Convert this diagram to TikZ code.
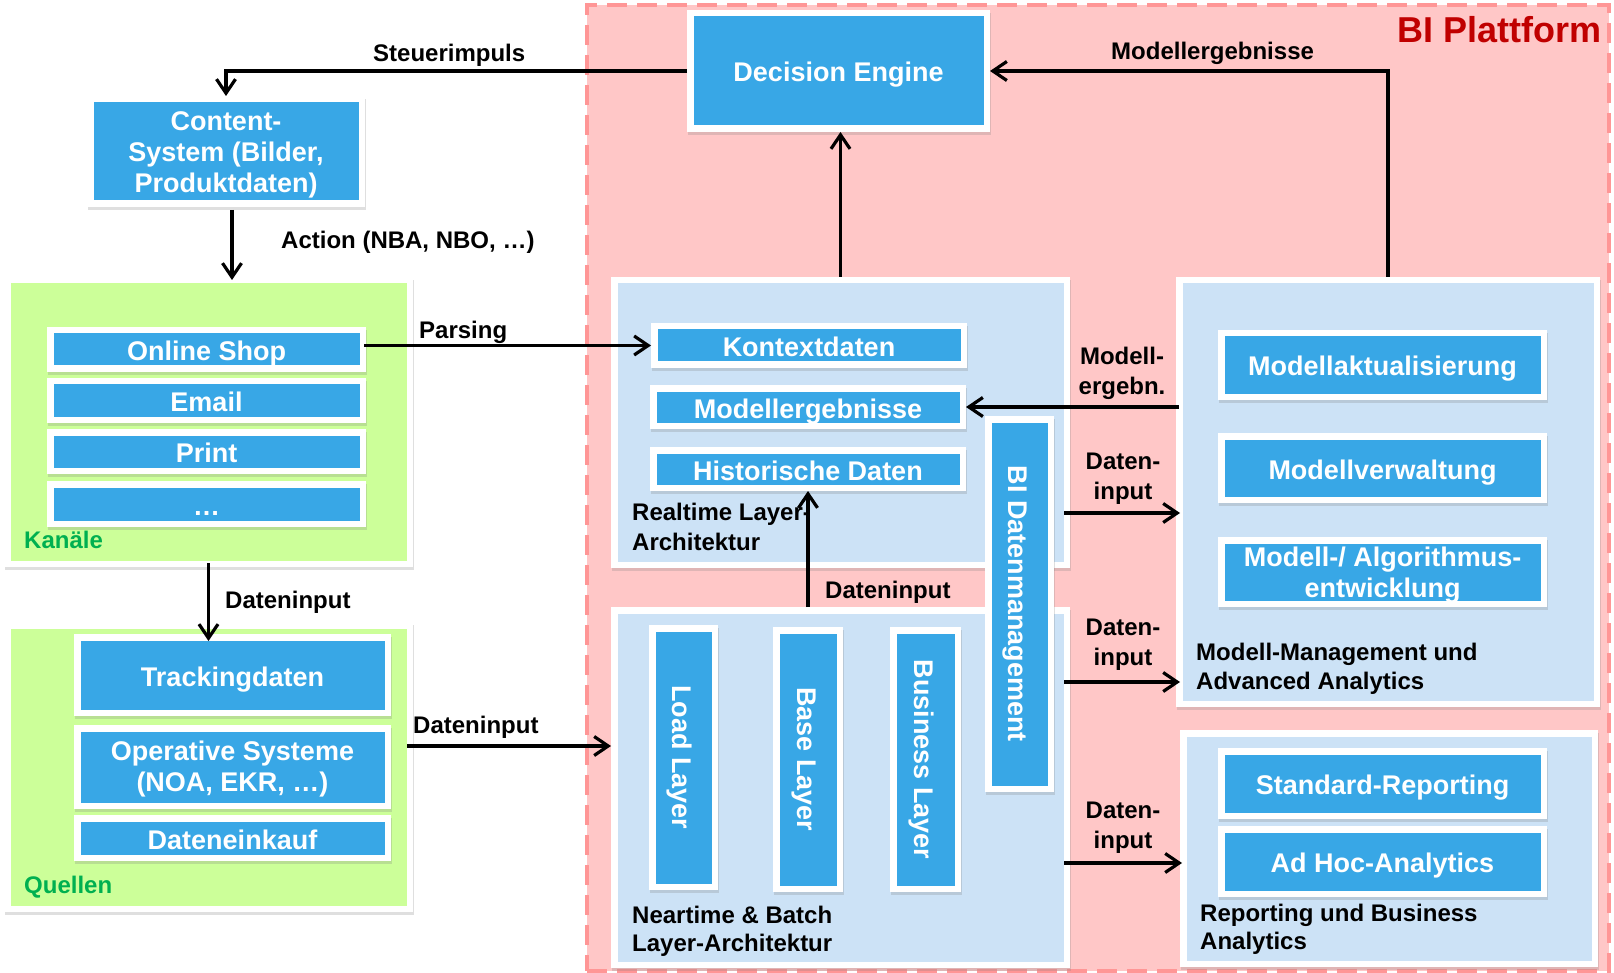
\documentclass[tikz,border=0pt]{standalone}
\usepackage{fontspec}
\setmainfont{Liberation Sans}
\usetikzlibrary{arrows.meta,shadows,fit,calc}

\definecolor{tileblue}{RGB}{56,167,230}
\definecolor{paleblue}{RGB}{204,226,246}
\definecolor{limegreen}{RGB}{204,255,153}
\definecolor{platformpink}{RGB}{255,199,199}
\definecolor{platformedge}{RGB}{255,150,150}
\definecolor{titlered}{RGB}{192,0,0}
\definecolor{groupgreen}{RGB}{0,176,80}

\tikzset{
  % white framed box with a coloured inner field and a soft shadow
  panel/.style={fill=white, draw=none, inner sep=0pt, outer sep=0pt,
    drop shadow={shadow xshift=1pt, shadow yshift=-3pt, opacity=0.25},
    path picture={\fill[#1] ([shift={(6.5pt,-6.5pt)}]path picture bounding box.north west)
      rectangle ([shift={(-6.5pt,6.5pt)}]path picture bounding box.south east);}},
  tile/.style={panel=tileblue},
  % white captions inside the blue tiles
  tiletext/.style={text=white, inner sep=0pt,
    font=\bfseries\fontsize{27}{31.5}\selectfont, text height=22pt, text depth=0pt},
  tilemulti/.style={text=white, inner sep=0pt,
    font=\bfseries\fontsize{27}{31}\selectfont, align=center},
  vtext/.style={tiletext, rotate=-90},
  lbl/.style={font=\bfseries\fontsize{24}{30}\selectfont, inner sep=0pt},
  arr/.style={line width=3.2pt, -{Straight Barb[length=14pt,width=19pt]}},
}

\begin{document}
\begin{tikzpicture}[x=1pt,y=-1pt]
\useasboundingbox (0,0) rectangle (1614,973);

% BI platform area
\node[fit={(587,5)(1609,971)}, inner sep=0pt, fill=platformpink, draw=platformedge,
  line width=4.5pt, dash pattern=on 20pt off 10pt] (bip) {};
\node[font=\bfseries\fontsize{36}{40}\selectfont, text=titlered, inner sep=0pt,
  anchor=base east] (biplbl) at (1602,43) {BI Plattform};

% decision engine and content system
\node[tile, fit={(687,10)(990,132)}] (de) {};
\node[tiletext] at (de) {Decision Engine};
\node[tile, fit={(87,96)(365,207)}] (cs) {};
\node[tilemulti, yshift=-3pt] at (cs) {Content-\\System (Bilder,\\Produktdaten)};

% channels
\node[panel=limegreen, fit={(4,277)(413,567)}] (kan) {};
\node[tile, fit={(47,327)(366,372)}] (shop) {};
\node[tiletext] at (shop) {Online Shop};
\node[tile, fit={(47,378)(366,423)}] (mail) {};
\node[tiletext] at (mail) {Email};
\node[tile, fit={(47,429)(366,474)}] (print) {};
\node[tiletext] at (print) {Print};
\node[tile, fit={(47,481)(366,527)}] (more) {};
\node[tiletext] at (more) {…};
\node[lbl, text=groupgreen, anchor=base west] (kanlbl) at (24,548) {Kanäle};

% sources
\node[panel=limegreen, fit={(4,622)(413,912)}] (qu) {};
\node[tile, fit={(74,634)(391,716)}] (trk) {};
\node[tiletext] at (trk) {Trackingdaten};
\node[tile, fit={(74,725)(391,809)}] (ops) {};
\node[tilemulti, yshift=-2pt] at (ops) {Operative Systeme\\(NOA, EKR, …)};
\node[tile, fit={(74,815)(391,861)}] (buy) {};
\node[tiletext] at (buy) {Dateneinkauf};
\node[lbl, text=groupgreen, anchor=base west] (qulbl) at (24,893) {Quellen};

% realtime layer
\node[panel=paleblue, fit={(611,277)(1070,568)}] (rt) {};
\node[tile, fit={(651,323)(967,368)}] (ctx) {};
\node[tiletext] at (ctx) {Kontextdaten};
\node[tile, fit={(650,385)(966,429)}] (meb) {};
\node[tiletext] at (meb) {Modellergebnisse};
\node[tile, fit={(650,447)(966,491)}] (hist) {};
\node[tiletext] at (hist) {Historische Daten};
\node[lbl, align=left, anchor=base west] (rtlbl) at (632,550) {Realtime Layer-\\Architektur};

% neartime and batch layers
\node[panel=paleblue, fit={(611,607)(1070,968)}] (nt) {};
\node[tile, fit={(649,625)(718,890)}] (load) {};
\node[vtext] at (load) {Load Layer};
\node[tile, fit={(773,627)(843,892)}] (base) {};
\node[vtext] at (base) {Base Layer};
\node[tile, fit={(890,627)(961,892)}] (biz) {};
\node[vtext] at (biz) {Business Layer};
\node[lbl, align=left, anchor=base west, font=\bfseries\fontsize{24}{28}\selectfont]
  (ntlbl) at (632,951) {Neartime \& Batch\\Layer-Architektur};

% data management bar across both layers
\node[tile, fit={(985,416)(1054,792)}] (dm) {};
\node[vtext] at (dm) {BI Datenmanagement};

% model management
\node[panel=paleblue, fit={(1176,277)(1600,707)}] (mm) {};
\node[tile, fit={(1218,330)(1547,400)}] (upd) {};
\node[tiletext] at (upd) {Modellaktualisierung};
\node[tile, fit={(1218,433)(1547,503)}] (adm) {};
\node[tiletext] at (adm) {Modellverwaltung};
\node[tile, fit={(1218,537)(1547,607)}] (dev) {};
\begin{scope}
  \clip (1224.5,543.5) rectangle (1540.5,600.5);
  \node[tilemulti, anchor=base] at (1382.5,597) {Modell-/ Algorithmus-\\entwicklung};
\end{scope}
\node[lbl, align=left, anchor=base west, font=\bfseries\fontsize{24}{29}\selectfont]
  (mmlbl) at (1196,689) {Modell-Management und\\Advanced Analytics};

% reporting
\node[panel=paleblue, fit={(1180,730)(1598,967)}] (rep) {};
\node[tile, fit={(1218,748)(1547,819)}] (std) {};
\node[tiletext] at (std) {Standard-Reporting};
\node[tile, fit={(1218,826)(1547,897)}] (adhoc) {};
\node[tiletext] at (adhoc) {Ad Hoc-Analytics};
\node[lbl, align=left, anchor=base west, font=\bfseries\fontsize{24}{28}\selectfont]
  (replbl) at (1200,949) {Reporting und Business\\Analytics};

% connectors
\draw[arr] (de.west) -| (cs.north);
\node[lbl, anchor=base west] at (373,62) {Steuerimpuls};

\draw[arr, shorten <=3pt, shorten >=-3pt] ([xshift=6pt]cs.south) -- ([xshift=6pt]cs.south |- kan.north);
\node[lbl, anchor=base west] at (281,249) {Action (NBA, NBO, …)};

\draw[arr, shorten <=-2pt] (shop.east |- ctx.west) -- (ctx.west);
\node[lbl, anchor=base west] at (419,339) {Parsing};

\draw[arr, shorten <=-4pt, shorten >=-7pt] (kan.south) -- (kan.south |- trk.north);
\node[lbl, anchor=base west] at (225,608) {Dateninput};

\draw[arr, shorten <=-6pt] ([yshift=21pt]qu.east) -- ([yshift=21pt]qu.east -| nt.west);
\node[lbl, anchor=base west] at (413,733) {Dateninput};

\draw[arr] (rt.north) -- (rt.north |- de.south);

\draw[arr] (nt.north -| hist.south) -- (hist.south);
\node[lbl, anchor=base west] at (825,598) {Dateninput};

\draw[arr] (mm.north) |- (de.east);
\node[lbl, anchor=base west] at (1111,60) {Modellergebnisse};

\draw[arr, shorten <=-3pt] (mm.west |- meb.east) -- (meb.east);
\node[lbl, align=center, anchor=base] at (1122,395) {Modell-\\ergebn.};

\draw[arr, shorten <=-6pt, shorten >=-4pt] ([yshift=-90.5pt]rt.east) -- ([yshift=-90.5pt]rt.east -| mm.west);
\node[lbl, align=center, anchor=base] at (1123,499) {Daten-\\input};

\draw[arr, shorten <=-6pt, shorten >=-4pt] ([yshift=105.5pt]nt.east) -- ([yshift=105.5pt]nt.east -| mm.west);
\node[lbl, align=center, anchor=base] at (1123,665) {Daten-\\input};

\draw[arr, shorten <=-6pt, shorten >=-2pt] ([yshift=-75.5pt]nt.east) -- ([yshift=-75.5pt]nt.east -| rep.west);
\node[lbl, align=center, anchor=base] at (1123,848) {Daten-\\input};
\end{tikzpicture}
\end{document}
